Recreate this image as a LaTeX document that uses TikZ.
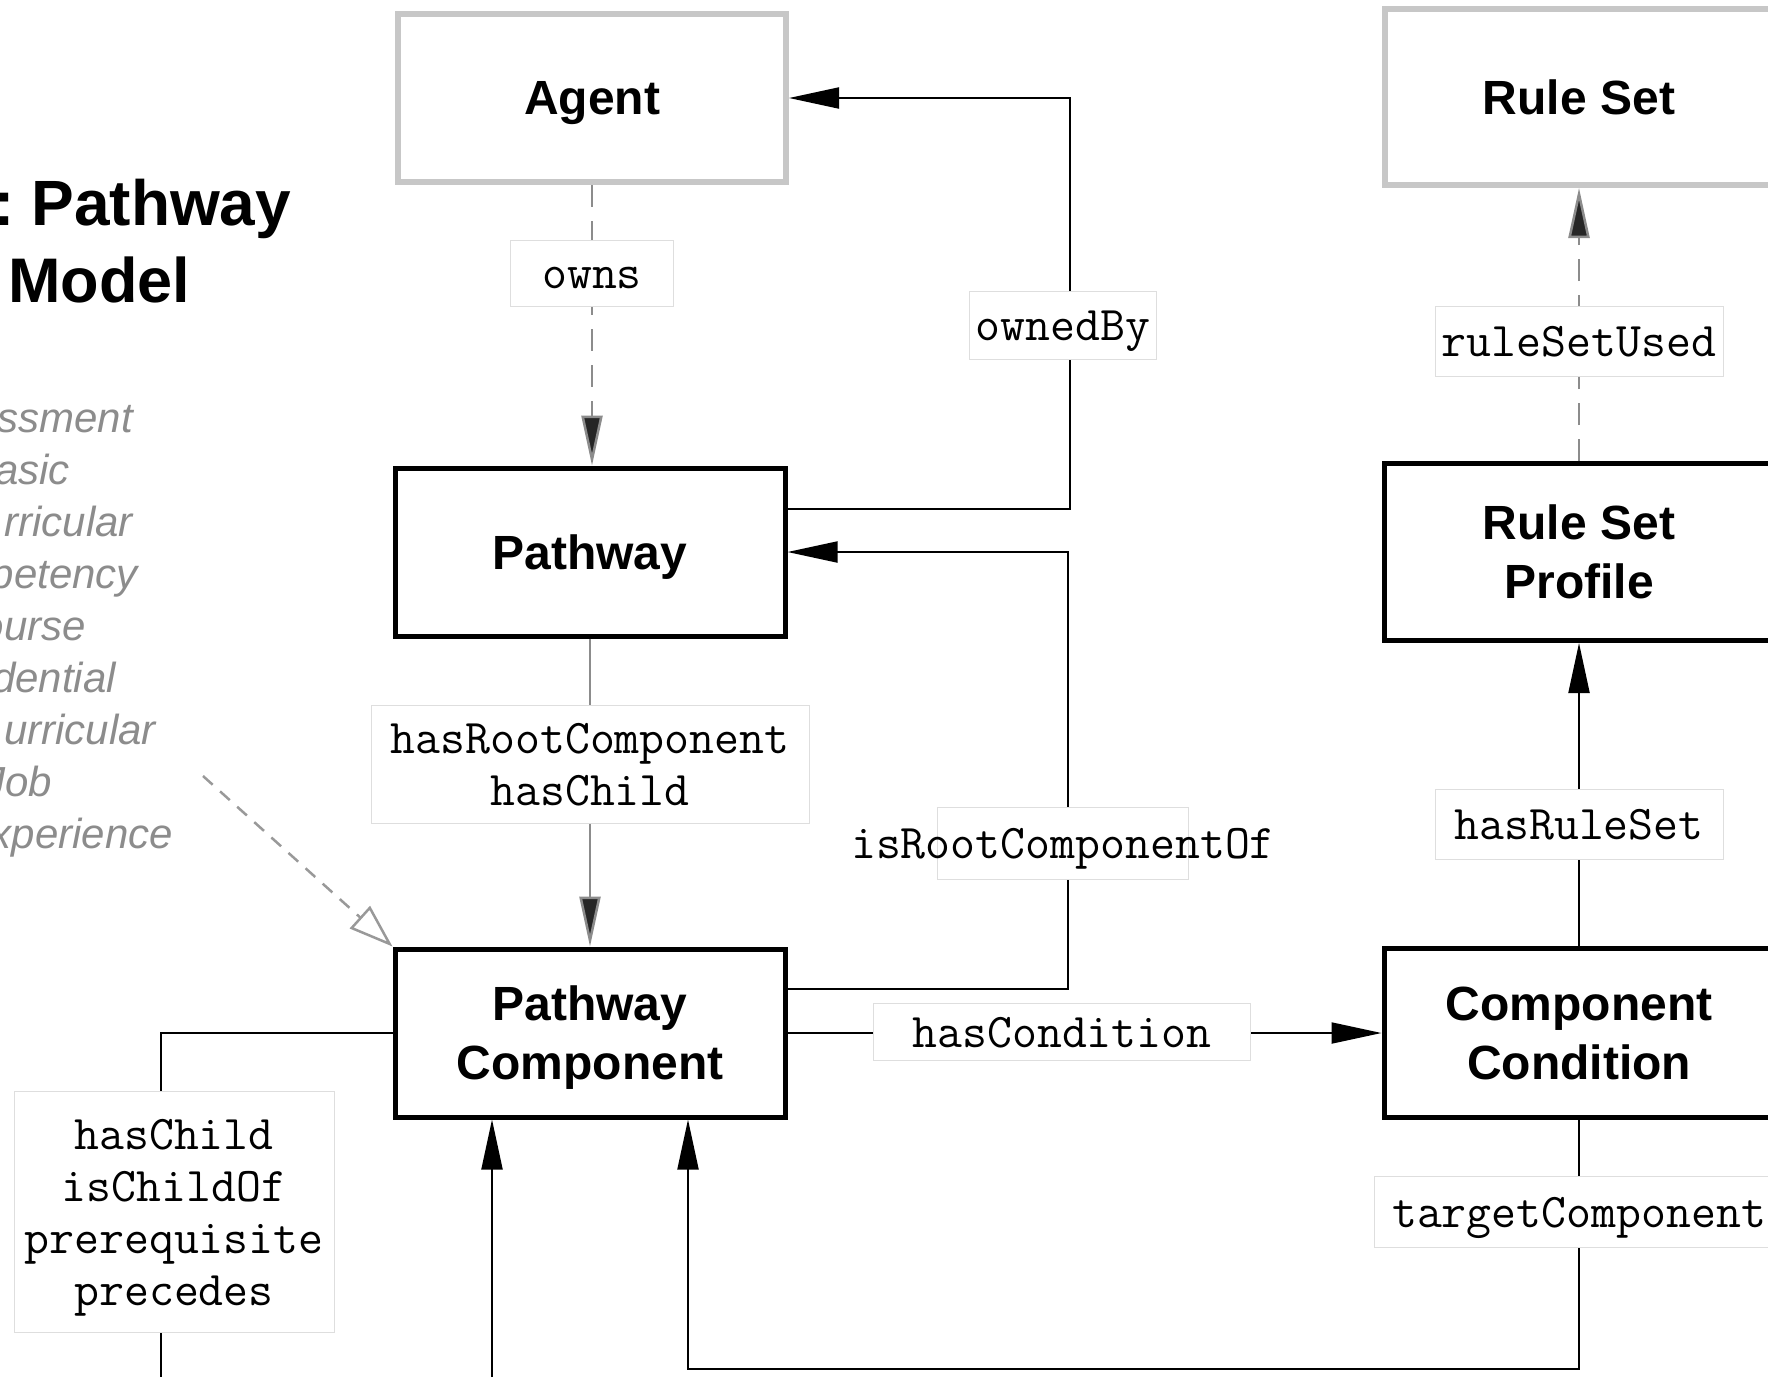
\documentclass[tikz,border=0pt]{standalone}
\usepackage{fontspec}
\setmainfont{Liberation Sans}
\usetikzlibrary{arrows.meta}

\tikzset{
	classbox/.style={draw=black, line width=5pt, fill=white, minimum width=390pt, minimum height=168pt,
		align=center, text depth=0pt, font=\fontsize{48}{59}\selectfont\bfseries},
	extbox/.style={classbox, draw=black!22, line width=6pt, minimum width=388pt},
	relbox/.style={draw=black!13, line width=1pt, fill=white, inner xsep=6pt, inner ysep=0pt,
		minimum height=68pt, font=\fontsize{48.4}{52}\selectfont\ttfamily},
	relline/.style={relbox, text height=38.7pt, text depth=7.7pt},
	rellines/.style={relbox, align=center, text depth=0pt},
	conn/.style={line width=2pt, -{Triangle[length=50pt,width=21pt]}},
	plain/.style={line width=2pt},
	grayconn/.style={draw=black!45, line width=2.5pt, -{Triangle[length=50pt,width=21pt,fill=black!85]}},
	dashconn/.style={grayconn, dash pattern=on 22pt off 14pt},
	isa/.style={draw=black!40, line width=2.5pt, dash pattern=on 13pt off 10pt,
		-{Triangle[open,length=44pt,width=30pt,fill=white]}},
	kindtext/.style={anchor=base east, inner sep=0pt, text=black!45, font=\fontsize{42}{52}\selectfont\itshape}
}

\begin{document}
\begin{tikzpicture}[x=1pt,y=1pt,yscale=-1]
\useasboundingbox (0,0) rectangle (1768,1377);
\clip (0,0) rectangle (1768,1377);

% title, cut by the left edge
\node[anchor=base west, inner sep=0pt, font=\fontsize{64}{76}\selectfont\bfseries] (title1) at (-7,225) {:\kern17pt Pathway};
\node[anchor=base west, inner sep=0pt, font=\fontsize{63}{76}\selectfont\bfseries] (title2) at (8,302) {Model};

% kinds of component
\foreach \t/\x [count=\i] in {ssment/133, asic/70, rricular/133, petency/138, ourse/86,
		dential/116, urricular/156, Job/52, xperience/173}
	\node[kindtext] (kind\i) at (\x,381+51.9*\i) {\t};

% classes
\node[extbox] (Agent) at (592,98) {Agent};
\node[extbox, minimum height=176pt] (RuleSet) at (1579,97) {Rule Set};
\node[classbox] (Pathway) at (590,552) {Pathway};
\node[classbox, minimum height=177pt] (Profile) at (1579,552) {Rule Set\\Profile};
\node[classbox] (PComp) at (590,1033) {Pathway\\Component};
\node[classbox, minimum height=169pt] (CondC) at (1579,1033) {Component\\Condition};

% turning points
\coordinate (ownTurn) at (1070,509);
\coordinate (rootTurn) at (1068,989);
\coordinate (tgtTurn) at (688,1369);
\coordinate (childIn) at (492,1377);
\coordinate (childTurn) at (161,1032);
\coordinate (childOut) at (161,1377);
\coordinate (kindArrow) at (203,776);

% relations
\draw[dashconn] (Agent.south) -- (Agent.south |- Pathway.north);
\draw[conn] (Pathway.east |- ownTurn) -- (ownTurn) |- (Agent.east);
\draw[grayconn] (Pathway.south) -- (PComp.north);
\draw[conn] (PComp.east |- rootTurn) -- (rootTurn) |- (Pathway.east);
\draw[conn] (PComp.east) -- (PComp.east -| CondC.west);
\draw[conn] (CondC.north) -- (Profile.south);
\draw[dashconn] (Profile.north) -- (RuleSet.south);
\draw[conn] (CondC.south) |- (tgtTurn) -- (PComp.south -| tgtTurn);
\draw[conn] (childIn) -- (PComp.south -| childIn);
\draw[plain] (PComp.west) -- (PComp.west -| childTurn) -- (childOut);
\draw[isa] (kindArrow) -- (PComp.north west);

% relation labels
\node[relline, minimum width=163pt, minimum height=66pt] (ownsL) at (592,273) {owns};
\node[relline] (ownedByL) at (1063,325) {ownedBy};
\node[rellines, minimum width=438pt, minimum height=118pt] (rootL) at (590,764) {hasRootComponent\\hasChild};
\node[relline, inner xsep=-86pt, minimum height=72pt] (isRootL) at (1063,843) {isRootComponentOf};
\node[relline, minimum width=377pt, minimum height=57pt] (condL) at (1062,1032) {hasCondition};
\node[relline, minimum width=288pt, minimum height=70pt] (ruleUsedL) at (1579,341) {ruleSetUsed};
\node[relline, minimum width=288pt, minimum height=70pt] (ruleSetL) at (1579,824) {hasRuleSet};
\node[relline, inner xsep=18pt, minimum height=71pt] (targetL) at (1579,1212) {targetComponent};
\node[rellines, minimum width=320pt, minimum height=241pt] (childL) at (174,1212) {hasChild\\isChildOf\\prerequisite\\precedes};

\end{tikzpicture}
\end{document}
